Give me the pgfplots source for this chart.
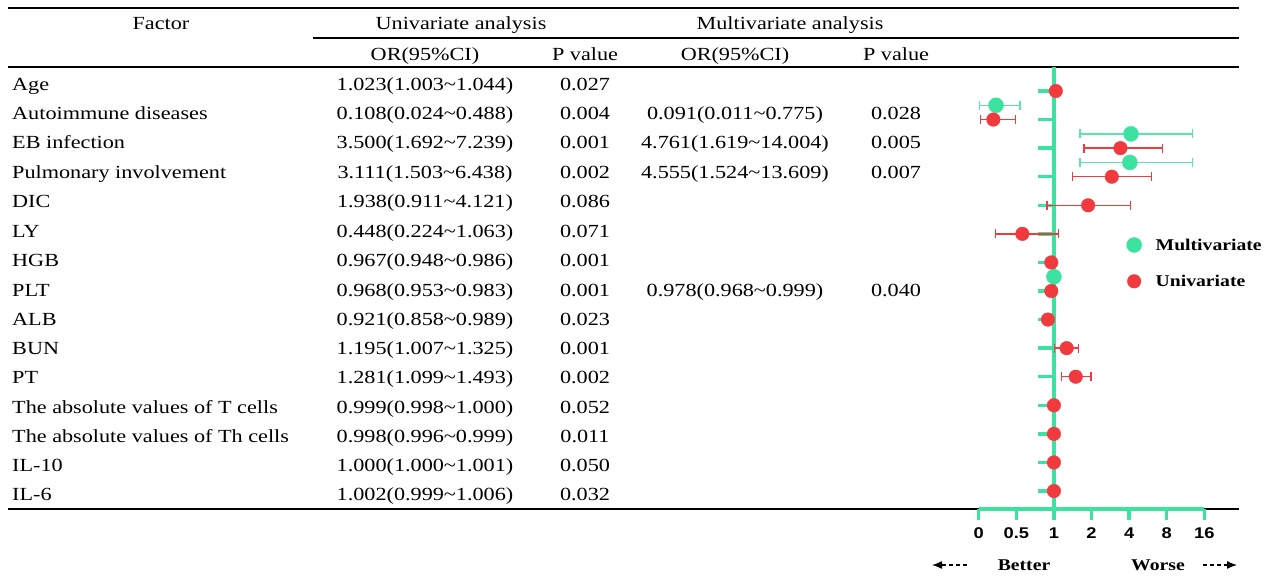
\documentclass[border=0pt]{standalone}
\usepackage{pgfplots}
\pgfplotsset{compat=1.18}
\usepackage{pgfplotstable}
\usepackage{fontspec}
\setmainfont{Liberation Serif}[FakeStretch=1.2]
\setsansfont{Liberation Sans}[FakeStretch=1.18]
\usetikzlibrary{arrows.meta}
\definecolor{mgreen}{RGB}{60,226,160}
\definecolor{ured}{RGB}{240,58,62}

% x = place on the plot scale: 0->-2, 0.5->-1, 1->0, 2->1, 4->2, 8->3, 16->4
\pgfplotstableread{
u     y     lo     hi
-1.54 14.5  -1.97  -0.90
 2.05 13.5   0.69   3.69
 2.02 12.5   0.69   3.69
 0.00  8.5   0.00   0.00
}\multi
\pgfplotstableread{
u     y   lo     hi
 0.05 15  0.05  0.05
-1.61 14 -1.95 -1.03
 1.77 13  0.80  2.88
 1.54 12  0.50  2.60
 0.91 11 -0.18  2.04
-0.84 10 -1.56  0.12
-0.07  9 -0.07 -0.07
-0.07  8 -0.07 -0.07
-0.16  7 -0.28 -0.06
 0.34  6  0.01  0.65
 0.58  5  0.20  0.99
 0.00  4  0.00  0.00
 0.00  3  0.00  0.00
 0.00  2  0.00  0.00
 0.00  1  0.00  0.00
}\uni

\def\t{\textasciitilde}
% baseline, factor, OR, P, OR (multi), P (multi)
\newcommand\tabrow[6]{%
  \node[anchor=base west] at (12pt,-#1pt) {#2};
  \node[anchor=base] at (425pt,-#1pt) {#3};
  \node[anchor=base] at (585pt,-#1pt) {#4};
  \node[anchor=base] at (735pt,-#1pt) {#5};
  \node[anchor=base] at (896pt,-#1pt) {#6};}

\begin{document}
\begin{tikzpicture}[every node/.style={inner sep=0pt, font=\fontsize{18.5}{20}\selectfont}]
\useasboundingbox (0,0) rectangle (1273pt,-577pt);

% table rules
\draw[line width=2.2pt] (8pt,-8pt) -- (1239pt,-8pt);
\draw[line width=1.8pt] (313pt,-38pt) -- (1239pt,-38pt);
\draw[line width=1.8pt] (8pt,-67pt) -- (1239pt,-67pt);
\draw[line width=2.2pt] (8pt,-509pt) -- (1239pt,-509pt);

% headers
\node[anchor=base] at (161pt,-30pt) {Factor};
\node[anchor=base] at (461pt,-30pt) {Univariate analysis};
\node[anchor=base] at (790pt,-30pt) {Multivariate analysis};
\node[anchor=base] at (425pt,-61pt) {OR(95\%CI)};
\node[anchor=base] at (585pt,-61pt) {P value};
\node[anchor=base] at (735pt,-61pt) {OR(95\%CI)};
\node[anchor=base] at (896pt,-61pt) {P value};

\tabrow{91}{Age}{1.023(1.003\t1.044)}{0.027}{}{}
\tabrow{120}{Autoimmune diseases}{0.108(0.024\t0.488)}{0.004}{0.091(0.011\t0.775)}{0.028}
\tabrow{149}{EB infection}{3.500(1.692\t7.239)}{0.001}{4.761(1.619\t14.004)}{0.005}
\tabrow{179}{Pulmonary involvement}{3.111(1.503\t6.438)}{0.002}{4.555(1.524\t13.609)}{0.007}
\tabrow{208}{DIC}{1.938(0.911\t4.121)}{0.086}{}{}
\tabrow{237}{LY}{0.448(0.224\t1.063)}{0.071}{}{}
\tabrow{266}{HGB}{0.967(0.948\t0.986)}{0.001}{}{}
\tabrow{296}{PLT}{0.968(0.953\t0.983)}{0.001}{0.978(0.968\t0.999)}{0.040}
\tabrow{325}{ALB}{0.921(0.858\t0.989)}{0.023}{}{}
\tabrow{354}{BUN}{1.195(1.007\t1.325)}{0.001}{}{}
\tabrow{383}{PT}{1.281(1.099\t1.493)}{0.002}{}{}
\tabrow{413}{The absolute values of T cells}{0.999(0.998\t1.000)}{0.052}{}{}
\tabrow{442}{The absolute values of Th cells}{0.998(0.996\t0.999)}{0.011}{}{}
\tabrow{471}{IL-10}{1.000(1.000\t1.001)}{0.050}{}{}
\tabrow{500}{IL-6}{1.002(0.999\t1.006)}{0.032}{}{}

\begin{axis}[
  at={(978.7pt,-509pt)}, anchor=south west,
  width=225.6pt, height=442pt, scale only axis,
  xmin=-2, xmax=4, ymin=0.37, ymax=15.84,
  axis x line=bottom, axis y line=middle,
  axis line style={-, draw=mgreen, line width=3.5pt},
  y axis line style={line width=4pt},
  xtick={-2,-1,0,1,2,3,4}, xticklabels={0,0.5,1,2,4,8,16},
  ytick={1,2,...,15}, yticklabels={},
  tick align=outside,
  tick style={draw=mgreen, line width=3.5pt},
  xtick style={/pgfplots/major tick length=11pt},
  ytick style={/pgfplots/major tick length=16pt},
  xticklabel style={font=\sffamily\bfseries\fontsize{15.5}{16}\selectfont, inner sep=0pt, yshift=-14pt},
  clip=false,
  legend style={draw=none, fill=none, at={(axis description cs:0.655,0.557)}, anchor=west,
    row sep=22pt, inner sep=0pt,
    nodes={inner sep=1pt, text height=11pt, text depth=0pt, font=\bfseries\fontsize{16.4}{18}\selectfont},
    /tikz/every odd column/.append style={column sep=13pt}},
  legend cell align=left,
]
\addplot[only marks, mark=*, mark size=7.5pt, mark options={draw=mgreen, fill=mgreen},
  error bars/.cd, x dir=both, x explicit, error mark=|,
  error bar style={line width=1.3pt, draw=mgreen!85!white},
  error mark options={line width=1.3pt, mark size=4.5pt, draw=mgreen!85!white}]
  table[x=u, y=y, x error plus expr=\thisrow{hi}-\thisrow{u}, x error minus expr=\thisrow{u}-\thisrow{lo}] {\multi};
\addlegendentry{Multivariate}
\addplot[only marks, mark=*, mark size=6.8pt, mark options={draw=ured, fill=ured},
  error bars/.cd, x dir=both, x explicit, error mark=|,
  error bar style={line width=1.3pt, draw=ured},
  error mark options={line width=1.3pt, mark size=4.5pt, draw=ured}]
  table[x=u, y=y, x error plus expr=\thisrow{hi}-\thisrow{u}, x error minus expr=\thisrow{u}-\thisrow{lo}] {\uni};
\addlegendentry{Univariate}
\end{axis}

% direction labels
\node[font=\bfseries\fontsize{16.4}{18}\selectfont] at (1024pt,-565pt) {Better};
\node[font=\bfseries\fontsize{16.4}{18}\selectfont] at (1158pt,-565pt) {Worse};
\draw[line width=1.3pt, dash pattern=on 4pt off 3pt, -{Latex[length=10pt,width=8pt]}] (967pt,-565pt) -- (932pt,-565pt);
\draw[line width=1.3pt, dash pattern=on 4pt off 3pt, -{Latex[length=10pt,width=8pt]}] (1203pt,-565pt) -- (1237pt,-565pt);
\end{tikzpicture}
\end{document}
